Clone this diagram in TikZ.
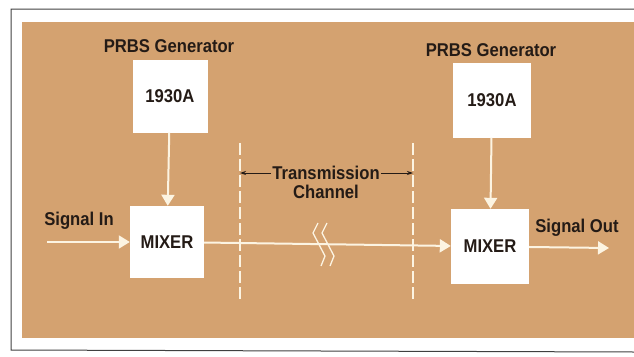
\documentclass[tikz,border=0pt]{standalone}
\usepackage{fontspec}
\setmainfont{Liberation Sans}[FakeStretch=0.9]
\usetikzlibrary{arrows.meta}

\definecolor{tanbg}{RGB}{212,162,112}
\definecolor{ink}{RGB}{36,27,22}
\definecolor{cream}{RGB}{252,244,226}

\begin{document}
\begin{tikzpicture}[x=1pt, y=-1pt,
    box/.style={fill=white, inner sep=0pt, text=ink,
                font=\bfseries\fontsize{18.5}{20}\selectfont},
    lbl/.style={text=ink, font=\bfseries\fontsize{18.5}{20}\selectfont, inner sep=1pt},
    sig/.style={-{Triangle[width=13pt,length=11pt]}, line width=2pt, cream},
    span/.style={-{Stealth[length=6pt,width=4pt]}, thick, ink},
    bound/.style={cream, line width=1.5pt, dash pattern=on 12pt off 4pt},
]
\useasboundingbox (0,0) rectangle (634,356);

% frame and panel
\draw[gray!50!black, line width=1pt] (634,9) -- (11,9) -- (11,350) -- (634,352);
\fill[tanbg] (22,22) rectangle (634,338);

% blocks
\node[box, minimum width=75pt, minimum height=73pt] (gen1) at (170,96) {1930A};
\node[box, minimum width=74pt, minimum height=72pt] (mix1) at (167,242) {MIXER};
\node[box, minimum width=78pt, minimum height=75pt] (gen2) at (492,100) {1930A};
\node[box, minimum width=78pt, minimum height=75pt] (mix2) at (490,246.5) {MIXER};

\node[lbl] (prbs1) at (169,46) {PRBS Generator};
\node[lbl] (prbs2) at (491,50) {PRBS Generator};

% channel boundaries
\coordinate (bL1) at (240,143);
\coordinate (bL2) at (240,300);
\coordinate (bR1) at (413,143);
\coordinate (bR2) at (413,300);
\draw[bound] (bL1) -- (bL2);
\draw[bound] (bR1) -- (bR2);

\node[lbl] (trans) at (326,173) {Transmission};
\node[lbl] (chan) at (326,192) {Channel};
\draw[span] (trans.west) -- (trans.west -| bL1);
\draw[span] (trans.east) -- (trans.east -| bR1);

% signal path
\coordinate (in) at (47,242);
\coordinate (out) at (609,248);
\node[lbl] (sin) at (79,221) {Signal In};
\node[lbl] (sout) at (577,228) {Signal Out};

\draw[sig] (gen1) -- (mix1);
\draw[sig] (gen2) -- (mix2);
\draw[sig] (in) -- (mix1);
\draw[sig] (mix1) -- (mix2);
\draw[sig] (mix2) -- (out);

% break in the channel
\draw[cream, line width=1.3pt] (318,223) -- (313,233) -- (325,256) -- (321,266);
\draw[cream, line width=1.3pt] (327,223) -- (322,233) -- (334,256) -- (330,266);
\end{tikzpicture}
\end{document}
